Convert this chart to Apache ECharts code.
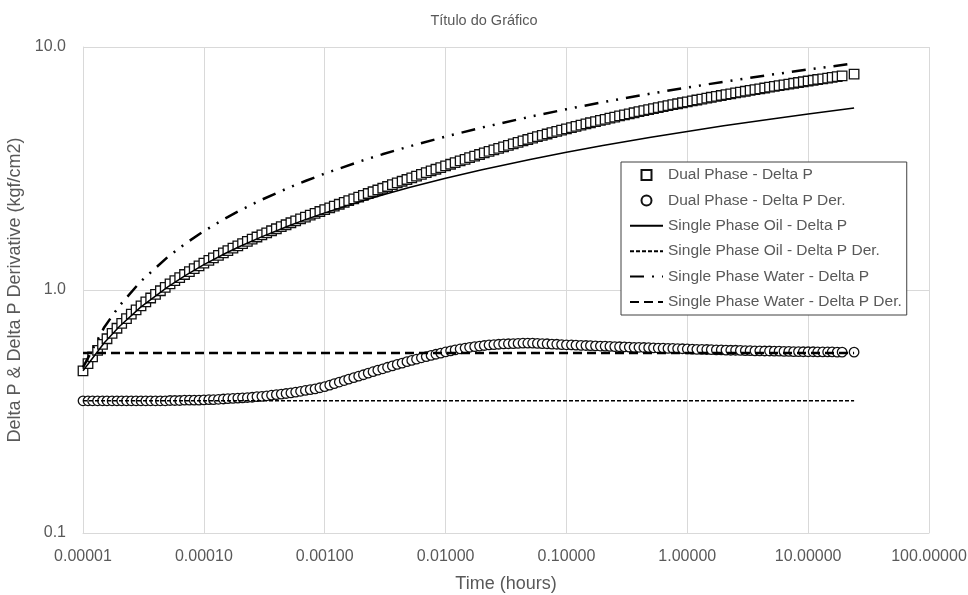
<!DOCTYPE html>
<html>
<head>
<meta charset="utf-8">
<script src="https://cdn.jsdelivr.net/npm/echarts@6/dist/echarts.min.js"></script>
<style>
  html, body { margin: 0; background: #fff; }
  #chart { width: 968px; height: 595px; }
</style>
</head>
<body>
<div id="chart"></div>
<script>
// time (hours) of the dual phase samples, 25 per decade + last point at 24 h
const timeHours = [
  1.00e-5, 1.10e-5, 1.20e-5, 1.32e-5, 1.45e-5, 1.58e-5, 1.74e-5, 1.91e-5, 2.09e-5, 2.29e-5, 2.51e-5, 2.75e-5, 3.02e-5, 3.31e-5, 3.63e-5, 3.98e-5, 4.37e-5, 4.79e-5, 5.25e-5, 5.75e-5, 6.31e-5, 6.92e-5, 7.59e-5, 8.32e-5, 9.12e-5,
  1.00e-4, 1.10e-4, 1.20e-4, 1.32e-4, 1.45e-4, 1.58e-4, 1.74e-4, 1.91e-4, 2.09e-4, 2.29e-4, 2.51e-4, 2.75e-4, 3.02e-4, 3.31e-4, 3.63e-4, 3.98e-4, 4.37e-4, 4.79e-4, 5.25e-4, 5.75e-4, 6.31e-4, 6.92e-4, 7.59e-4, 8.32e-4, 9.12e-4,
  1.00e-3, 1.10e-3, 1.20e-3, 1.32e-3, 1.45e-3, 1.58e-3, 1.74e-3, 1.91e-3, 2.09e-3, 2.29e-3, 2.51e-3, 2.75e-3, 3.02e-3, 3.31e-3, 3.63e-3, 3.98e-3, 4.37e-3, 4.79e-3, 5.25e-3, 5.75e-3, 6.31e-3, 6.92e-3, 7.59e-3, 8.32e-3, 9.12e-3,
  1.00e-2, 1.10e-2, 1.20e-2, 1.32e-2, 1.45e-2, 1.58e-2, 1.74e-2, 1.91e-2, 2.09e-2, 2.29e-2, 2.51e-2, 2.75e-2, 3.02e-2, 3.31e-2, 3.63e-2, 3.98e-2, 4.37e-2, 4.79e-2, 5.25e-2, 5.75e-2, 6.31e-2, 6.92e-2, 7.59e-2, 8.32e-2, 9.12e-2,
  1.00e-1, 1.10e-1, 1.20e-1, 1.32e-1, 1.45e-1, 1.58e-1, 1.74e-1, 1.91e-1, 2.09e-1, 2.29e-1, 2.51e-1, 2.75e-1, 3.02e-1, 3.31e-1, 3.63e-1, 3.98e-1, 4.37e-1, 4.79e-1, 5.25e-1, 5.75e-1, 6.31e-1, 6.92e-1, 7.59e-1, 8.32e-1, 9.12e-1,
  1.00, 1.10, 1.20, 1.32, 1.45, 1.58, 1.74, 1.91, 2.09, 2.29, 2.51, 2.75, 3.02, 3.31, 3.63, 3.98, 4.37, 4.79, 5.25, 5.75, 6.31, 6.92, 7.59, 8.32, 9.12,
  10.0, 11.0, 12.0, 13.2, 14.5, 15.8, 17.4, 19.1,
  24
];

const dualDeltaP = [
  0.465, 0.498, 0.531, 0.564, 0.597, 0.630, 0.663, 0.696, 0.729, 0.762, 0.795, 0.828, 0.861, 0.894, 0.927, 0.960, 0.993, 1.026, 1.059, 1.092, 1.125, 1.158, 1.191, 1.224, 1.257,
  1.290, 1.323, 1.355, 1.388, 1.421, 1.453, 1.486, 1.519, 1.552, 1.585, 1.619, 1.652, 1.686, 1.719, 1.753, 1.787, 1.822, 1.856, 1.891, 1.926, 1.961, 1.996, 2.032, 2.068, 2.104,
  2.141, 2.178, 2.216, 2.254, 2.293, 2.332, 2.372, 2.412, 2.453, 2.495, 2.537, 2.580, 2.623, 2.667, 2.712, 2.757, 2.803, 2.849, 2.896, 2.944, 2.992, 3.041, 3.090, 3.140, 3.190,
  3.241, 3.292, 3.344, 3.397, 3.450, 3.503, 3.557, 3.611, 3.665, 3.720, 3.775, 3.830, 3.885, 3.940, 3.996, 4.051, 4.107, 4.162, 4.218, 4.274, 4.329, 4.385, 4.440, 4.495, 4.550,
  4.605, 4.660, 4.714, 4.769, 4.823, 4.878, 4.932, 4.986, 5.040, 5.094, 5.148, 5.202, 5.256, 5.310, 5.363, 5.417, 5.470, 5.524, 5.577, 5.630, 5.683, 5.736, 5.789, 5.842, 5.895,
  5.948, 6.001, 6.053, 6.106, 6.158, 6.211, 6.263, 6.315, 6.367, 6.419, 6.471, 6.523, 6.575, 6.627, 6.679, 6.731, 6.782, 6.834, 6.886, 6.937, 6.989, 7.040, 7.092, 7.143, 7.194,
  7.246, 7.297, 7.348, 7.399, 7.451, 7.502, 7.553, 7.604,
  7.732
];

const dualDerivative = [
  0.350, 0.350, 0.350, 0.350, 0.350, 0.350, 0.350, 0.350, 0.350, 0.350, 0.350, 0.350, 0.350, 0.350, 0.350, 0.350, 0.350, 0.350, 0.351, 0.351, 0.351, 0.352, 0.352, 0.352, 0.352,
  0.353, 0.354, 0.354, 0.355, 0.356, 0.357, 0.358, 0.359, 0.360, 0.361, 0.362, 0.364, 0.365, 0.367, 0.369, 0.371, 0.373, 0.375, 0.377, 0.380, 0.383, 0.386, 0.389, 0.392, 0.396,
  0.400, 0.406, 0.412, 0.418, 0.424, 0.430, 0.436, 0.442, 0.448, 0.455, 0.461, 0.468, 0.474, 0.481, 0.487, 0.494, 0.500, 0.507, 0.513, 0.519, 0.526, 0.532, 0.538, 0.544, 0.550,
  0.556, 0.562, 0.567, 0.572, 0.577, 0.581, 0.585, 0.588, 0.591, 0.594, 0.596, 0.598, 0.600, 0.601, 0.602, 0.603, 0.604, 0.604, 0.604, 0.603, 0.602, 0.601, 0.599, 0.598, 0.596,
  0.595, 0.594, 0.593, 0.592, 0.591, 0.590, 0.589, 0.588, 0.587, 0.586, 0.585, 0.584, 0.583, 0.582, 0.581, 0.581, 0.580, 0.579, 0.578, 0.577, 0.576, 0.575, 0.575, 0.574, 0.573,
  0.572, 0.571, 0.570, 0.570, 0.569, 0.568, 0.567, 0.567, 0.566, 0.565, 0.565, 0.564, 0.563, 0.563, 0.562, 0.562, 0.561, 0.561, 0.560, 0.560, 0.559, 0.559, 0.558, 0.558, 0.557,
  0.557, 0.557, 0.556, 0.556, 0.556, 0.556, 0.555, 0.555,
  0.555
];

// single phase curves (read at fewer times)
const lineTimes = [1e-5, 1.5e-5, 2e-5, 3e-5, 5e-5, 7e-5, 1e-4, 1.5e-4, 2e-4, 3e-4, 5e-4, 7e-4, 1e-3, 2e-3, 3e-3, 5e-3, 1e-2, 2e-2, 5e-2, 0.1, 0.2, 0.5, 1, 2, 5, 10, 24];
const oilDeltaP = [0.465, 0.607, 0.708, 0.850, 1.028, 1.146, 1.271, 1.413, 1.514, 1.655, 1.834, 1.952, 2.077, 2.319, 2.461, 2.640, 2.883, 3.125, 3.446, 3.689, 3.931, 4.252, 4.495, 4.737, 5.058, 5.301, 5.607];
const waterDeltaP = [0.480, 0.703, 0.861, 1.084, 1.365, 1.550, 1.747, 1.969, 2.128, 2.351, 2.632, 2.816, 3.013, 3.394, 3.617, 3.898, 4.279, 4.661, 5.164, 5.546, 5.927, 6.431, 6.812, 7.193, 7.697, 8.079, 8.560];

const derTimes = [1e-5, 24];
const oilDerivative = [0.35, 0.35];
const waterDerivative = [0.55, 0.55];

const seriesNames = [
  'Dual Phase - Delta P',
  'Dual Phase - Delta P Der.',
  'Single Phase Oil - Delta P',
  'Single Phase Oil - Delta P Der.',
  'Single Phase Water - Delta P',
  'Single Phase Water - Delta P Der.'
];

function pairs(xs, ys) {
  return xs.map((x, i) => [x, ys[i]]);
}

const font = 'Liberation Sans, Arial, sans-serif';
const gray = '#595959';
const markerStyle = { color: '#fff', borderColor: '#111', borderWidth: 1.3, opacity: 1 };

// legend: square for the squares, no dot on the line icons
const legendData = seriesNames.map((name, i) => {
  if (i === 0) return { name: name, icon: 'path://M0,0H10V10H0Z' };
  if (i === 1) return { name: name };
  return { name: name, itemStyle: { opacity: 0 } };
});

const chart = echarts.init(document.getElementById('chart'));
chart.setOption({
  animation: false,
  backgroundColor: '#fff',
  textStyle: { fontFamily: font },
  title: {
    text: 'Título do Gráfico',
    left: 'center',
    top: 8,
    textStyle: { fontSize: 14.5, fontWeight: 'normal', color: gray, fontFamily: font }
  },
  legend: {
    data: legendData,
    orient: 'vertical',
    left: 621,
    top: 162,
    itemWidth: 33,
    itemHeight: 10,
    itemGap: 9.4,
    symbolKeepAspect: true,
    padding: [5, 5, 5, 8],
    borderColor: '#404040',
    borderWidth: 1,
    backgroundColor: '#fff',
    textStyle: { fontSize: 15.5, color: gray, lineHeight: 16, fontFamily: font }
  },
  grid: {
    left: 83,
    right: 39,
    top: 47,
    bottom: 62,
    outerBoundsMode: 'none'
  },
  xAxis: {
    type: 'log',
    logBase: 10,
    min: 0.00001,
    max: 100,
    name: 'Time (hours)',
    nameLocation: 'middle',
    nameGap: 42,
    nameTextStyle: { fontSize: 18, color: gray, fontFamily: font },
    axisLine: { show: true, lineStyle: { color: '#d9d9d9', width: 1 } },
    axisTick: { show: false },
    axisLabel: {
      fontSize: 16, color: gray, margin: 16, fontFamily: font,
      formatter: v => Number(v).toFixed(5)
    },
    splitLine: { show: true, lineStyle: { color: '#d9d9d9', width: 1 } },
    minorTick: { show: false },
    minorSplitLine: { show: false }
  },
  yAxis: {
    type: 'log',
    logBase: 10,
    min: 0.1,
    max: 10,
    name: 'Delta P & Delta P Derivative (kgf/cm2)',
    nameLocation: 'middle',
    nameGap: 51,
    nameTextStyle: { fontSize: 18, color: gray, fontFamily: font },
    axisLine: { show: true, lineStyle: { color: '#d9d9d9', width: 1 } },
    axisTick: { show: false },
    axisLabel: {
      fontSize: 16, color: gray, margin: 17, fontFamily: font,
      formatter: v => Number(v).toFixed(1)
    },
    splitLine: { show: true, lineStyle: { color: '#d9d9d9', width: 1 } }
  },
  series: [
    {
      name: seriesNames[0],
      type: 'scatter',
      symbol: 'rect',
      symbolSize: 9.5,
      itemStyle: markerStyle,
      data: pairs(timeHours, dualDeltaP)
    },
    {
      name: seriesNames[1],
      type: 'scatter',
      symbol: 'circle',
      symbolSize: 9.5,
      itemStyle: markerStyle,
      data: pairs(timeHours, dualDerivative)
    },
    {
      name: seriesNames[2],
      type: 'line',
      symbol: 'none',
      color: '#000',
      lineStyle: { color: '#000', width: 1.5, type: 'solid' },
      data: pairs(lineTimes, oilDeltaP)
    },
    {
      name: seriesNames[3],
      type: 'line',
      symbol: 'none',
      color: '#000',
      lineStyle: { color: '#000', width: 1.5, type: [4, 2] },
      data: pairs(derTimes, oilDerivative)
    },
    {
      name: seriesNames[4],
      type: 'line',
      symbol: 'none',
      color: '#000',
      lineStyle: { color: '#000', width: 2.5, type: [14, 8, 2, 8, 2, 8] },
      data: pairs(lineTimes, waterDeltaP)
    },
    {
      name: seriesNames[5],
      type: 'line',
      symbol: 'none',
      color: '#000',
      lineStyle: { color: '#000', width: 2.5, type: [9, 5] },
      data: pairs(derTimes, waterDerivative)
    }
  ]
});
</script>
</body>
</html>
